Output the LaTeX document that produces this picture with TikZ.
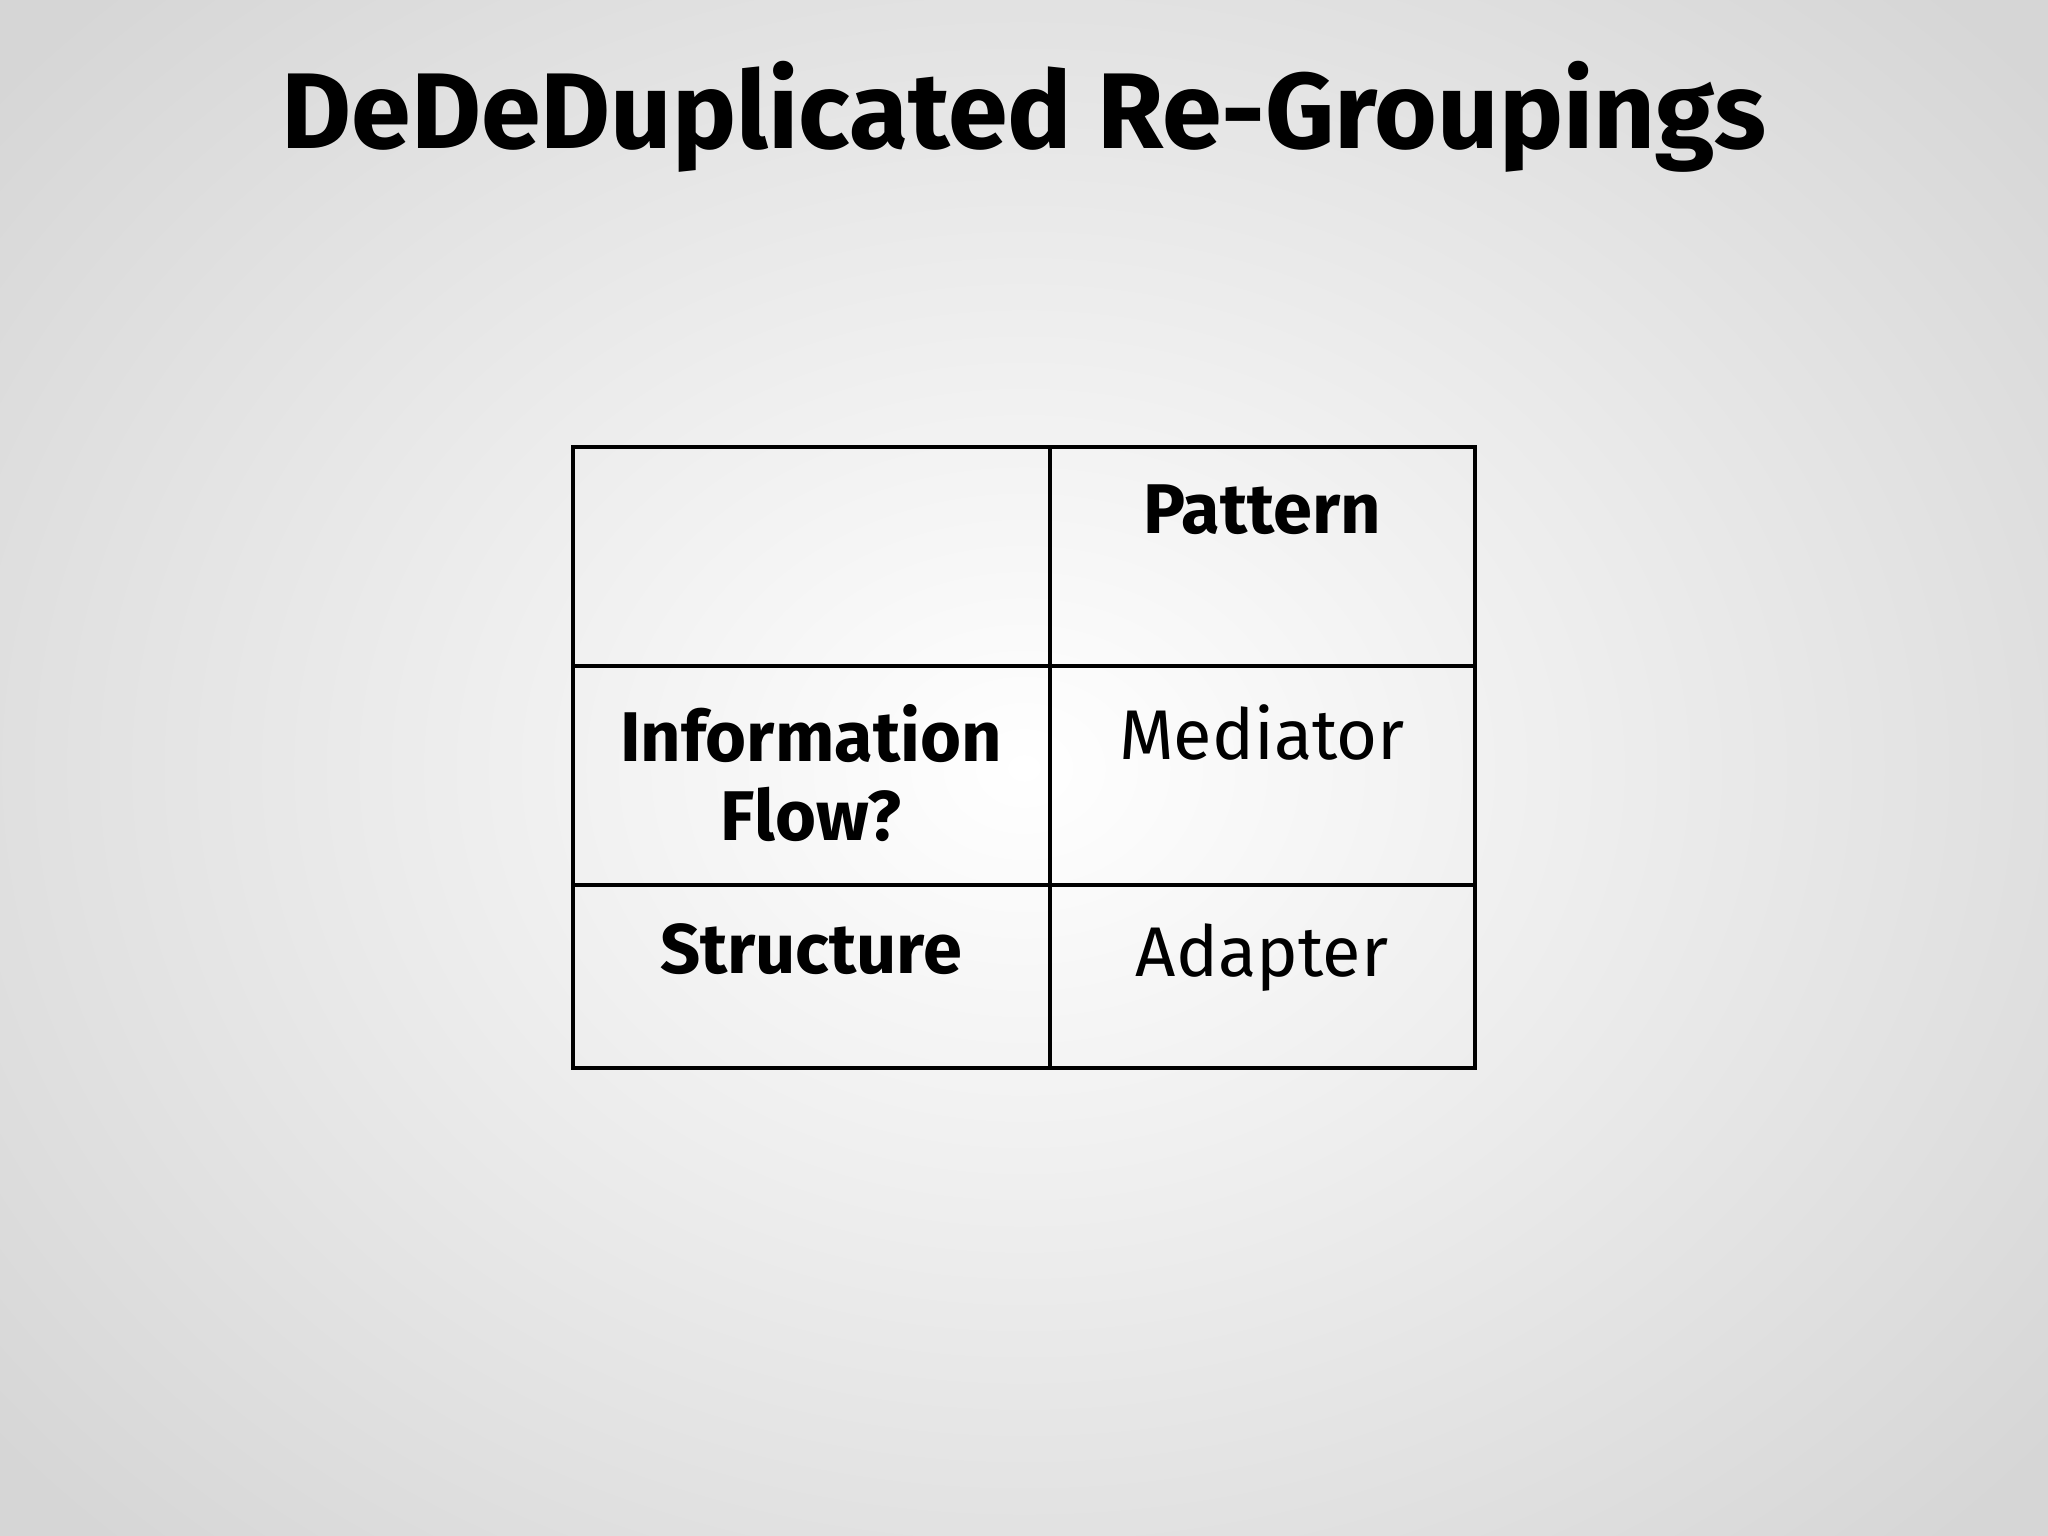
\documentclass[tikz,border=0pt]{standalone}
\usepackage{fontspec}
\setmainfont{Fira Sans}
\begin{document}
\begin{tikzpicture}[x=0.01cm,y=-0.01cm,
  cell/.style={anchor=north,align=center,font=\fontsize{20}{22.5}\selectfont},
  hd/.style={cell,font=\fontsize{20}{22.5}\selectfont\bfseries}]
\useasboundingbox (0,0) rectangle (2048,1536);
\shade[inner color=white,outer color=black!16] (-300,-300) rectangle (2348,1836);
\node[font=\fontsize{30.6}{36}\selectfont\bfseries] (title) at (1024,117) {DeDeDuplicated Re-Groupings};
\draw[line width=0.9pt] (573,447) rectangle (1475,1068);
\draw[line width=0.9pt] (1050,447) -- (1050,1068);
\draw[line width=0.9pt] (573,666) -- (1475,666);
\draw[line width=0.9pt] (573,885) -- (1475,885);
\node[hd] (p) at (1262,472) {Pattern};
\node[hd] (i) at (811,692) {Information\\Flow?};
\node[cell] (m) at (1262,692) {Mediator};
\node[hd] (s) at (811,911) {Structure};
\node[cell] (a) at (1262,911) {Adapter};
\end{tikzpicture}
\end{document}
